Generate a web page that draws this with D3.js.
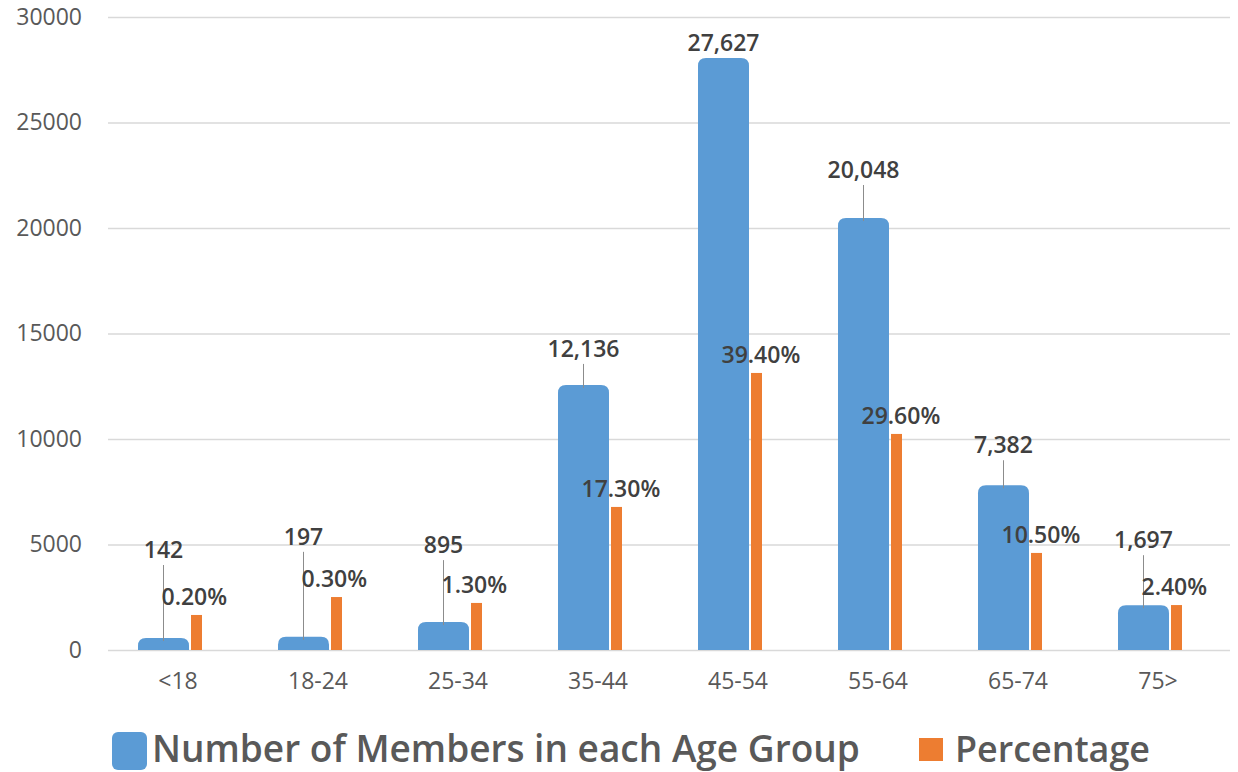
<!DOCTYPE html>
<html>
<head>
<meta charset="utf-8">
<script src="https://cdn.jsdelivr.net/npm/d3@7/dist/d3.min.js"></script>
<style>
  html, body { margin: 0; padding: 0; background: #fff; }
  svg { display: block; }
  text { font-family: "Open Sans", "Noto Sans", sans-serif; }
</style>
</head>
<body>
<svg id="chart" width="1238" height="772"></svg>
<script>
// ---- data ----
const categories = ["<18", "18-24", "25-34", "35-44", "45-54", "55-64", "65-74", "75>"];
const members = [142, 197, 895, 12136, 27627, 20048, 7382, 1697];
const memberLabels = ["142", "197", "895", "12,136", "27,627", "20,048", "7,382", "1,697"];
const percentages = [0.2, 0.3, 1.3, 17.3, 39.4, 29.6, 10.5, 2.4];
const percentLabels = ["0.20%", "0.30%", "1.30%", "17.30%", "39.40%", "29.60%", "10.50%", "2.40%"];
// heights of the orange bars as drawn, read in left-axis units
const percentBarLevels = [1660, 2510, 2230, 6780, 13130, 10240, 4600, 2130];
const yTicks = [0, 5000, 10000, 15000, 20000, 25000, 30000];
const seriesNames = ["Number of Members in each Age Group", "Percentage"];

// ---- layout (kept apart from the data) ----
const memberLabelLift = [88, 100, 77, 36, 15, 48, 40, 65]; // px above the bar top
const blue = "#5b9bd5", orange = "#ed7d31";

const svg = d3.select("#chart");
const x = d3.scaleBand().domain(categories).range([108, 1228]).padding(0);
const y = d3.scaleLinear().domain([0, 30000]).range([650, 17]);

// gridlines + y labels
const yAxis = d3.axisLeft(y).tickValues(yTicks).tickSize(-(1230 - 108)).tickPadding(26).tickFormat(d3.format("d"));
const gy = svg.append("g").attr("transform", "translate(108,0)").call(yAxis);
gy.select(".domain").remove();
gy.selectAll(".tick line").attr("stroke", "#d9d9d9").attr("stroke-width", 1.3);
gy.selectAll(".tick text").attr("fill", "#595959").attr("font-size", 23).attr("font-family", "Open Sans");

// x labels
const xAxis = d3.axisBottom(x).tickSize(0).tickPadding(23);
const gx = svg.append("g").attr("transform", "translate(0,650)").call(xAxis);
gx.select(".domain").remove();
gx.selectAll(".tick text").attr("fill", "#595959").attr("font-size", 23).attr("font-family", "Open Sans");

const cap = 9, r = 8;
const blueX = c => x(c) + 30, blueW = 51;
const orangeX = c => x(c) + 83, orangeW = 11;
const blueTop = v => y(v) - cap;

function roundTopPath(x0, top, w, bottom, rad) {
  return `M${x0},${bottom} L${x0},${top + rad} Q${x0},${top} ${x0 + rad},${top} L${x0 + w - rad},${top} Q${x0 + w},${top} ${x0 + w},${top + rad} L${x0 + w},${bottom} Z`;
}

const data = categories.map((c, i) => ({
  c, m: members[i], ml: memberLabels[i], p: percentages[i], pl: percentLabels[i],
  pv: percentBarLevels[i], lift: memberLabelLift[i]
}));

// blue bars
svg.append("g").selectAll("path").data(data).join("path")
  .attr("d", d => roundTopPath(blueX(d.c), blueTop(d.m), blueW, y(0), r))
  .attr("fill", blue);

// orange bars
svg.append("g").selectAll("rect").data(data).join("rect")
  .attr("x", d => orangeX(d.c)).attr("width", orangeW)
  .attr("y", d => y(d.pv)).attr("height", d => y(0) - y(d.pv))
  .attr("fill", orange);

// leader lines
svg.append("g").selectAll("line").data(data.filter(d => d.lift > 25)).join("line")
  .attr("x1", d => blueX(d.c) + blueW / 2).attr("x2", d => blueX(d.c) + blueW / 2)
  .attr("y1", d => blueTop(d.m) - d.lift + 15).attr("y2", d => blueTop(d.m) + 3)
  .attr("stroke", "#8c8c8c").attr("stroke-width", 1);

// member labels
svg.append("g").selectAll("text").data(data).join("text")
  .attr("x", d => blueX(d.c) + blueW / 2)
  .attr("y", d => blueTop(d.m) - d.lift)
  .attr("dy", "0.35em")
  .attr("text-anchor", "middle")
  .attr("font-size", 23).attr("font-weight", 600).attr("fill", "#404040")
  .text(d => d.ml);

// percentage labels
svg.append("g").selectAll("text").data(data).join("text")
  .attr("x", d => blueX(d.c) + blueW / 2 - 2)
  .attr("y", d => y(d.pv) - 18)
  .attr("dy", "0.35em")
  .attr("text-anchor", "start")
  .attr("font-size", 23).attr("font-weight", 600).attr("fill", "#404040")
  .text(d => d.pl);

// legend
function fit(sel, target) {
  const w = sel.node().getComputedTextLength();
  const fs = parseFloat(sel.attr("font-size"));
  sel.attr("font-size", fs * target / w);
}
svg.append("rect").attr("x", 112).attr("y", 732).attr("width", 35).attr("height", 38)
  .attr("rx", 6).attr("fill", blue);
const t1 = svg.append("text").attr("x", 152).attr("y", 762)
  .attr("font-size", 34).attr("font-weight", 600).attr("fill", "#595959").text(seriesNames[0]);
fit(t1, 708);
svg.append("rect").attr("x", 919).attr("y", 738).attr("width", 24).attr("height", 23).attr("fill", orange);
const t2 = svg.append("text").attr("x", 955).attr("y", 762)
  .attr("font-size", 34).attr("font-weight", 600).attr("fill", "#595959").text(seriesNames[1]);
fit(t2, 195);
</script>
</body>
</html>
